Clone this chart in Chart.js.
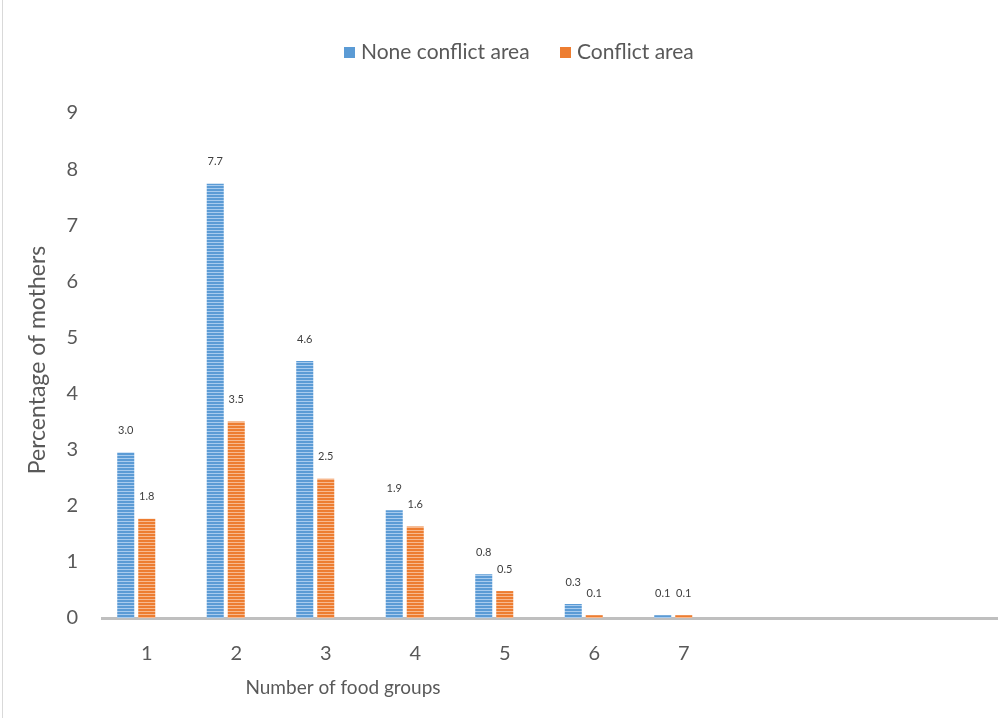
<!DOCTYPE html>
<html>
<head>
<meta charset="utf-8">
<script src="https://cdn.jsdelivr.net/npm/chart.js@4"></script>
<style>
  html, body { margin: 0; padding: 0; background: #fff; }
  #wrap { width: 999px; height: 718px; }
</style>
</head>
<body>
<div id="wrap"><canvas id="myChart" width="999" height="718"></canvas></div>
<script>
// chart data
const categories = ['1', '2', '3', '4', '5', '6', '7', '', '', ''];
const noneConflict = [2.95, 7.74, 4.58, 1.92, 0.78, 0.25, 0.05];
const conflict = [1.77, 3.5, 2.48, 1.63, 0.48, 0.05, 0.05];
const yTicks = [0, 1, 2, 3, 4, 5, 6, 7, 8, 9];
const seriesNames = ['None conflict area', 'Conflict area'];

const FONT = 'Lato, "Open Sans", sans-serif';

// horizontal striped fill like the original
function stripes(base, light) {
    const c = document.createElement('canvas');
    c.width = 4;
    c.height = 3;
    const g = c.getContext('2d');
    g.fillStyle = base;
    g.fillRect(0, 0, 4, 3);
    g.fillStyle = light;
    g.fillRect(0, 2, 4, 1);
    return g.createPattern(c, 'repeat');
}

const blueFill = stripes('#5b9bd5', '#a8cbee');
const orangeFill = stripes('#ed7d31', '#f7b98f');

// labels, titles, legend and the thin left border
const decorations = {
    id: 'decorations',
    beforeDraw(chart) {
        const ctx = chart.ctx;
        ctx.save();
        ctx.fillStyle = '#fff';
        ctx.fillRect(0, 0, chart.width, chart.height);
        ctx.fillStyle = '#d9d9d9';
        ctx.fillRect(2, 0, 1, chart.height);
        ctx.restore();
    },
    afterDatasetsDraw(chart) {
        const ctx = chart.ctx;
        ctx.save();
        ctx.font = '11px ' + FONT;
        ctx.fillStyle = '#404040';
        ctx.textAlign = 'center';
        ctx.textBaseline = 'middle';
        [noneConflict, conflict].forEach((vals, i) => {
            const meta = chart.getDatasetMeta(i);
            meta.data.forEach((bar, j) => {
                if (vals[j] == null) return;
                ctx.fillText(vals[j].toFixed(1), bar.x, bar.y - 22);
            });
        });

        // legend
        ctx.font = '21px ' + FONT;
        ctx.textAlign = 'left';
        ctx.fillStyle = '#5b9bd5';
        ctx.fillRect(344, 47, 11, 11);
        ctx.fillStyle = '#595959';
        ctx.fillText(seriesNames[0], 361, 52);
        ctx.fillStyle = '#ed7d31';
        ctx.fillRect(560, 47, 11, 11);
        ctx.fillStyle = '#595959';
        ctx.fillText(seriesNames[1], 577, 52);

        // axis titles
        ctx.font = '19px ' + FONT;
        ctx.textAlign = 'center';
        ctx.fillText('Number of food groups', 343, 688);
        ctx.font = '23px ' + FONT;
        ctx.translate(38, 360);
        ctx.rotate(-Math.PI / 2);
        ctx.fillText('Percentage of mothers', 0, 0);
        ctx.restore();
    }
};

const ctx = document.getElementById('myChart').getContext('2d');

const myChart = new Chart(ctx, {
    type: 'bar',
    data: {
        labels: categories,
        datasets: [
            { label: seriesNames[0], data: noneConflict, backgroundColor: blueFill },
            { label: seriesNames[1], data: conflict, backgroundColor: orangeFill },
            // empty slot so the pair sits left of the tick like in the original
            { label: '', data: [], backgroundColor: 'rgba(0,0,0,0)' }
        ]
    },
    options: {
        responsive: false,
        animation: false,
        devicePixelRatio: 1,
        categoryPercentage: 0.704,
        barPercentage: 0.81,
        layout: { padding: { top: 113, right: 2, left: 0, bottom: 0 } },
        plugins: {
            legend: { display: false },
            tooltip: { enabled: false },
            title: { display: false }
        },
        scales: {
            x: {
                grid: { display: false, drawTicks: false },
                border: { display: true, color: '#bfbfbf', width: 3 },
                ticks: {
                    padding: 24,
                    color: '#595959',
                    font: { family: FONT, size: 20 },
                    maxRotation: 0,
                    autoSkip: false
                },
                afterFit(scale) { scale.height = 100; }
            },
            y: {
                min: 0,
                max: 9,
                grid: { display: false, drawTicks: false },
                border: { display: false },
                afterBuildTicks(scale) { scale.ticks = yTicks.map(v => ({ value: v })); },
                ticks: {
                    padding: 24,
                    color: '#595959',
                    font: { family: FONT, size: 20 }
                },
                afterFit(scale) { scale.width = 102; }
            }
        }
    },
    plugins: [decorations]
});
</script>
</body>
</html>
